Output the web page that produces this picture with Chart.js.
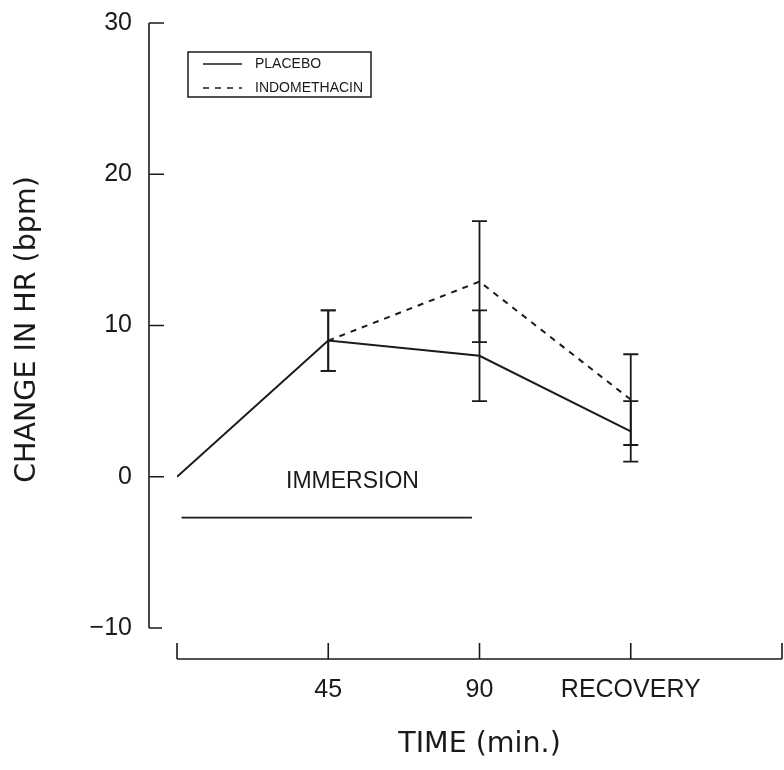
<!DOCTYPE html>
<html>
<head>
<meta charset="utf-8">
<title>Change in HR</title>
<script src="https://cdn.jsdelivr.net/npm/chart.js@4.4.1/dist/chart.umd.min.js"></script>
<style>
  html, body { margin: 0; padding: 0; background: #fff; }
  #wrap { width: 784px; height: 770px; }
</style>
</head>
<body>
<div id="wrap"><canvas id="chart" width="784" height="770"></canvas></div>
<script>
// time points on the x scale (0 = start, 1 = 45 min, 2 = 90 min, 3 = recovery)
const TIME_POS = [0, 1, 2, 3];
const X_TICKS = [1, 2, 3];
const X_TICK_LABELS = ['45', '90', 'RECOVERY'];
const X_AXIS_MARKS = [0, 1, 2, 3, 4];
const Y_TICKS = [-10, 0, 10, 20, 30];

const PLACEBO = [0, 9, 8, 3];
const PLACEBO_ERR = [null, 2, 3, 2];
const INDO = [null, 9, 12.9, 5.1];
const INDO_ERR = [null, 2, 4, 3];

// immersion bar under the first two time points
const IMMERSION_X = [0.03, 1.95];
const IMMERSION_Y = -2.7;
const IMMERSION_TEXT = { x: 1.16, y: -0.35, label: 'IMMERSION' };

const INK = '#1a1a1a';
const TICK_FONT = { family: '"Liberation Sans", Arial, sans-serif', size: 25 };
const TITLE_FONT = { family: '"DejaVu Sans", sans-serif', size: 28.5 };

function toPoints(values, errs) {
  return TIME_POS
    .map((t, i) => ({ x: t, y: values[i], err: errs[i] }))
    .filter((p) => p.y !== null);
}

const errorBars = {
  id: 'errorBars',
  afterDatasetsDraw(chart) {
    const { ctx, scales: { x, y } } = chart;
    ctx.save();
    ctx.strokeStyle = INK;
    ctx.lineWidth = 1.8;
    chart.data.datasets.forEach((ds) => {
      if (!ds.showErrors) return;
      ds.data.forEach((p) => {
        if (!p.err) return;
        const px = x.getPixelForValue(p.x);
        const top = y.getPixelForValue(p.y + p.err);
        const bot = y.getPixelForValue(p.y - p.err);
        ctx.beginPath();
        ctx.moveTo(px, top); ctx.lineTo(px, bot);
        ctx.moveTo(px - 7.5, top); ctx.lineTo(px + 7.5, top);
        ctx.moveTo(px - 7.5, bot); ctx.lineTo(px + 7.5, bot);
        ctx.stroke();
      });
    });
    ctx.restore();
  },
};

const frame = {
  id: 'frame',
  afterDraw(chart) {
    const { ctx, chartArea, scales: { x, y } } = chart;
    ctx.save();
    ctx.strokeStyle = INK;
    ctx.fillStyle = INK;
    ctx.lineWidth = 1.6;

    // detached y axis
    const ax = chartArea.left - 28;
    ctx.beginPath();
    ctx.moveTo(ax, y.getPixelForValue(Y_TICKS[Y_TICKS.length - 1]));
    ctx.lineTo(ax, y.getPixelForValue(Y_TICKS[0]));
    Y_TICKS.forEach((v) => {
      const py = y.getPixelForValue(v);
      ctx.moveTo(ax, py);
      ctx.lineTo(ax + (v === Y_TICKS[0] ? 13 : 15), py);
    });
    ctx.stroke();

    // detached x axis with upward ticks
    const by = chartArea.bottom;
    ctx.beginPath();
    ctx.moveTo(x.getPixelForValue(X_AXIS_MARKS[0]), by);
    ctx.lineTo(x.getPixelForValue(X_AXIS_MARKS[X_AXIS_MARKS.length - 1]), by);
    X_AXIS_MARKS.forEach((v) => {
      const px = x.getPixelForValue(v);
      ctx.moveTo(px, by);
      ctx.lineTo(px, by - 16);
    });
    ctx.stroke();

    // immersion label
    ctx.font = `23px ${TICK_FONT.family}`;
    ctx.textAlign = 'center';
    ctx.textBaseline = 'middle';
    ctx.fillText(IMMERSION_TEXT.label, x.getPixelForValue(IMMERSION_TEXT.x), y.getPixelForValue(IMMERSION_TEXT.y));

    // boxed legend
    const lx = chartArea.left + 11;
    const ly = 52;
    ctx.lineWidth = 1.5;
    ctx.strokeRect(lx, ly, 183, 45);
    ctx.font = `14px ${TICK_FONT.family}`;
    ctx.textAlign = 'left';
    chart.data.datasets.filter((ds) => ds.inLegend).forEach((ds, i) => {
      const ry = ly + 12 + i * 24;
      ctx.save();
      ctx.lineWidth = 1.6;
      ctx.setLineDash(ds.borderDash || []);
      ctx.beginPath();
      ctx.moveTo(lx + 15, ry);
      ctx.lineTo(lx + 54, ry);
      ctx.stroke();
      ctx.restore();
      ctx.fillText(ds.label, lx + 67, ry);
    });
    ctx.restore();
  },
};

new Chart(document.getElementById('chart'), {
  type: 'line',
  data: {
    datasets: [
      {
        label: 'PLACEBO',
        data: toPoints(PLACEBO, PLACEBO_ERR),
        borderColor: INK,
        borderWidth: 2,
        pointRadius: 0,
        showErrors: true,
        inLegend: true,
      },
      {
        label: 'INDOMETHACIN',
        data: toPoints(INDO, INDO_ERR),
        borderColor: INK,
        borderWidth: 2,
        borderDash: [6, 6],
        pointRadius: 0,
        showErrors: true,
        inLegend: true,
      },
      {
        label: 'IMMERSION',
        data: IMMERSION_X.map((v) => ({ x: v, y: IMMERSION_Y })),
        borderColor: INK,
        borderWidth: 1.8,
        pointRadius: 0,
      },
    ],
  },
  options: {
    responsive: false,
    animation: false,
    layout: { padding: { top: 0, right: 2, bottom: 0, left: 0 } },
    plugins: {
      legend: { display: false },
      tooltip: { enabled: false },
    },
    scales: {
      x: {
        type: 'linear',
        min: 0,
        max: 4,
        border: { display: false },
        grid: { display: false, drawTicks: false },
        afterBuildTicks: (s) => { s.ticks = X_TICKS.map((v) => ({ value: v })); },
        ticks: {
          color: INK,
          font: TICK_FONT,
          padding: 16,
          maxRotation: 0,
          autoSkip: false,
          callback: (v) => X_TICK_LABELS[X_TICKS.indexOf(v)],
        },
        title: {
          display: true,
          text: 'TIME (min.)',
          color: INK,
          font: TITLE_FONT,
          padding: { top: 0, bottom: 8 },
        },
        afterFit: (s) => {
          s.height = 111;
          s.paddingLeft = 0;
          s.paddingRight = 0;
        },
      },
      y: {
        min: -12.05,
        max: 31.52,
        border: { display: false },
        grid: { display: false, drawTicks: false },
        afterBuildTicks: (s) => { s.ticks = Y_TICKS.map((v) => ({ value: v })); },
        ticks: {
          color: INK,
          font: TICK_FONT,
          padding: 45,
          callback: (v) => (v < 0 ? '\u2212' + Math.abs(v) : String(v)),
        },
        title: {
          display: true,
          text: 'CHANGE IN HR (bpm)',
          color: INK,
          font: TITLE_FONT,
          padding: { top: 10, bottom: 0 },
        },
        afterFit: (s) => {
          s.width = 177;
          s.paddingTop = 0;
          s.paddingBottom = 0;
        },
      },
    },
  },
  plugins: [errorBars, frame],
});
</script>
</body>
</html>
